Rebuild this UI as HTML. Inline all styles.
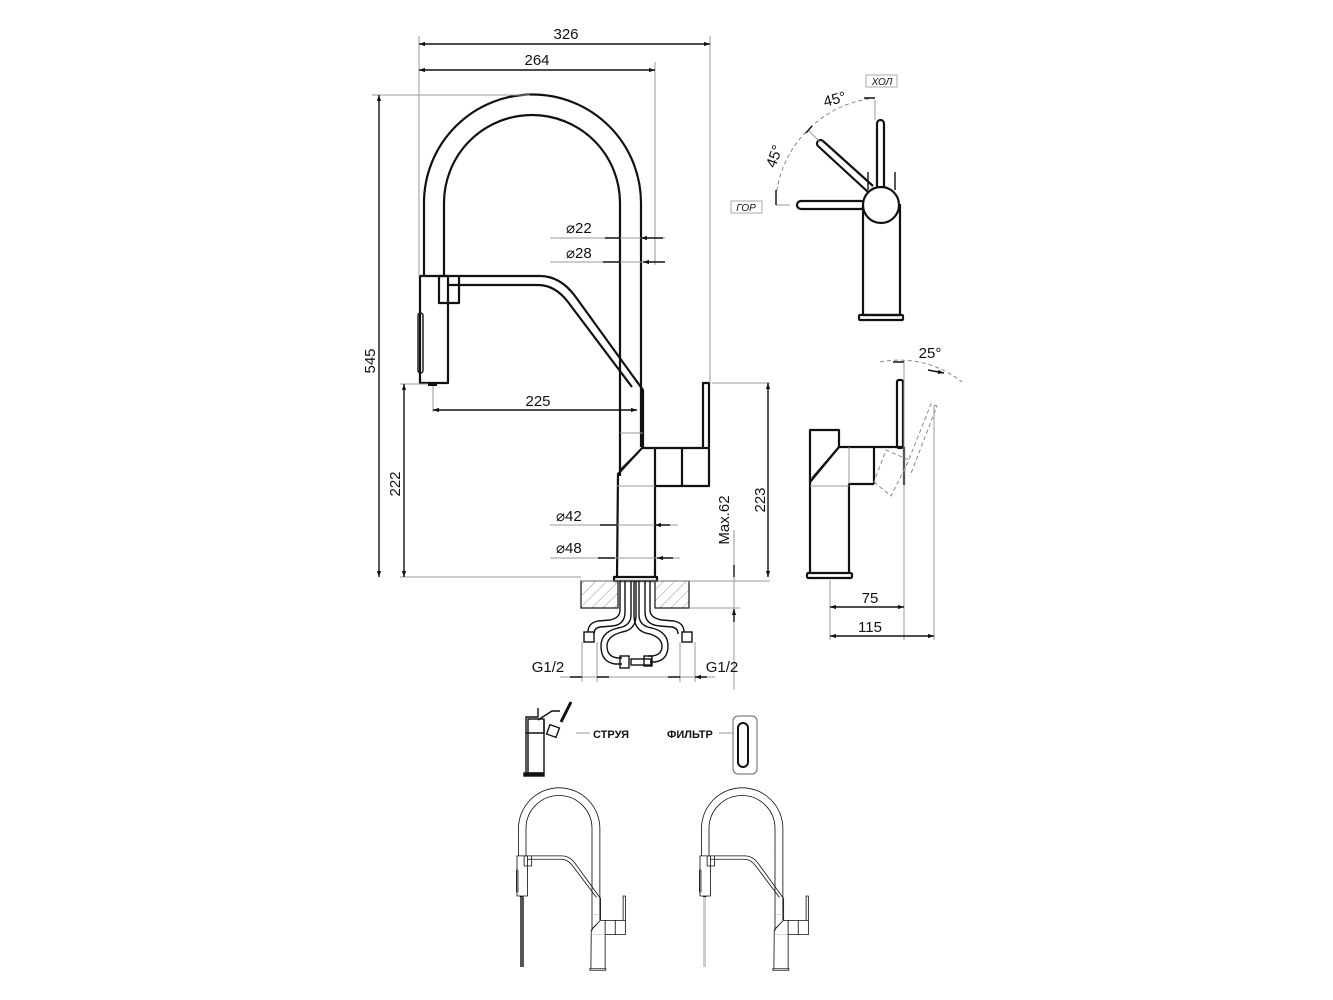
<!DOCTYPE html>
<html><head><meta charset="utf-8"><style>
html,body{margin:0;padding:0;background:#fff}
svg{display:block}
text{font-family:"Liberation Sans",sans-serif;fill:#111}
.o{fill:none;stroke:#111;stroke-width:2.2;stroke-linejoin:round}
.t{fill:none;stroke:#111;stroke-width:1.4}
.d{fill:none;stroke:#999;stroke-width:1}
.ds{fill:none;stroke:#888;stroke-width:1;stroke-dasharray:4 3}
</style></head><body>
<svg width="1333" height="1000" viewBox="0 0 1333 1000" xmlns="http://www.w3.org/2000/svg">
<defs>
<marker id="a" viewBox="0 0 10 10" refX="10" refY="5" markerWidth="9" markerHeight="6" orient="auto-start-reverse" markerUnits="userSpaceOnUse"><path d="M0,1.5 L10,5 L0,8.5z" fill="#111"/></marker>
<pattern id="h" width="8" height="8" patternUnits="userSpaceOnUse" patternTransform="rotate(45)"><line x1="0" y1="0" x2="0" y2="8" stroke="#999" stroke-width="1"/></pattern>
<g id="fau">
 <path class="o" d="M424,276 V203 A108.5,108.5 0 0 1 641,203 V447"/>
 <path class="o" d="M444,276 V203 A88,88 0 0 1 620,203 V476"/>
 <rect class="o" x="420" y="276" width="28" height="107"/>
 <rect class="o" x="439" y="276" width="20" height="27"/>
 <rect class="t" x="418" y="313" width="5" height="60" rx="2.5"/>
 <rect x="428" y="383" width="9" height="3" fill="#111"/>
 <path class="o" d="M459,276 H540 Q560,276 575,296 L643,390 V447"/>
 <path class="o" d="M448,285 H538 Q555,285 568,302 L632,387"/>
 <path class="d" d="M620,433 H643"/>
 <path class="o" d="M643,447 L618,474 L617,577"/>
 <path class="t" d="M643,447 L620,470"/>
 <path class="o" d="M643,448 H709 V383 H703 V448"/>
 <path class="o" d="M655,448 V577 M682,448 V486 H709 V448 M655,486 H682"/>
 <path class="d" d="M617,486 H655"/>
 <rect class="o" x="614" y="577" width="43" height="4"/>
</g>
</defs>

<!-- main faucet -->
<use href="#fau"/>

<!-- countertop -->
<rect x="581" y="581" width="37" height="27" fill="url(#h)" stroke="#111" stroke-width="1.2"/>
<rect x="655" y="581" width="34" height="27" fill="url(#h)" stroke="#111" stroke-width="1.2"/>
<path class="d" d="M581,581 H770 M689,608 H740"/>
<!-- hoses -->
<g class="t">
<path d="M620,581 V610 Q620,618 610,620 L598,621 Q588,623 588,632"/>
<path d="M625,581 V612 Q625,625 612,626 L600,627 Q594,628 594,634"/>
<path d="M650,581 V610 Q650,618 662,620 L674,621 Q684,623 684,632"/>
<path d="M645,581 V612 Q645,625 660,626 L672,627 Q678,628 678,634"/>
<path d="M631,581 V615 Q631,626 618,628 Q601,632 601,646 Q601,662 615,664 L622,664"/>
<path d="M636,581 V615 Q636,630 622,632 Q607,636 607,646 Q607,657 618,658 L622,658"/>
<path d="M639,581 V615 Q639,626 652,628 Q668,632 668,646 Q668,660 655,662 L650,662"/>
<path d="M634,581 V615 Q634,632 650,634 Q662,638 662,646 Q662,655 652,656 L648,656"/>
</g>
<rect class="t" x="584" y="632" width="10" height="10"/>
<rect class="t" x="682" y="632" width="10" height="10"/>
<rect class="t" x="620" y="656" width="9" height="12"/>
<rect class="t" x="631" y="659" width="20" height="6"/>
<rect class="t" x="644" y="656" width="8" height="10"/>

<!-- dimensions main -->
<path class="d" d="M419,36 V276 M710,36 V383 M655,62 V265"/>
<path class="t" d="M419,44 H710" marker-start="url(#a)" marker-end="url(#a)"/>
<text x="566" y="39" font-size="15" text-anchor="middle">326</text>
<path class="t" d="M419,70 H655" marker-start="url(#a)" marker-end="url(#a)"/>
<text x="537" y="65" font-size="15" text-anchor="middle">264</text>
<path class="d" d="M372,95 H530"/>
<path class="t" d="M379,95 V577" marker-start="url(#a)" marker-end="url(#a)"/>
<text transform="translate(375,361) rotate(-90)" font-size="15" text-anchor="middle">545</text>
<path class="d" d="M400,384 H428 M400,577 H581"/>
<path class="t" d="M404,384 V577" marker-start="url(#a)" marker-end="url(#a)"/>
<text transform="translate(400,484) rotate(-90)" font-size="15" text-anchor="middle">222</text>
<path class="d" d="M433,386 V412"/>
<path class="t" d="M433,410 H637" marker-start="url(#a)" marker-end="url(#a)"/>
<text x="538" y="406" font-size="15" text-anchor="middle">225</text>
<path class="d" d="M550,238 H665 M550,262 H665"/>
<path class="t" d="M605,238 H620 M663,238 H641" marker-end="url(#a)"/>
<path class="t" d="M603,262 H620 M665,262 H643" marker-end="url(#a)"/>
<text x="566" y="233" font-size="15">⌀22</text>
<text x="566" y="258" font-size="15">⌀28</text>
<path class="d" d="M550,525 H678 M550,558 H680"/>
<path class="t" d="M600,525 H617 M670,525 H655" marker-end="url(#a)"/>
<path class="t" d="M598,558 H615 M673,558 H657" marker-end="url(#a)"/>
<text x="556" y="521" font-size="15">⌀42</text>
<text x="556" y="553" font-size="15">⌀48</text>
<path class="d" d="M712,383 H770"/>
<path class="t" d="M768,383 V577" marker-start="url(#a)" marker-end="url(#a)"/>
<text transform="translate(765,500) rotate(-90)" font-size="15" text-anchor="middle">223</text>
<path class="d" d="M734,530 V690"/>
<path class="t" d="M734,565 V577 M734,622 V609" marker-end="url(#a)"/>
<text transform="translate(729,520) rotate(-90)" font-size="15" text-anchor="middle">Max.62</text>
<path class="d" d="M582,642 V682 M597,642 V682 M680,642 V682 M695,642 V682 M560,677 H715"/>
<path class="t" d="M570,677 H582 M609,677 H597 M668,677 H680 M707,677 H695" marker-end="url(#a)"/>
<text x="548" y="672" font-size="15" text-anchor="middle">G1/2</text>
<text x="722" y="672" font-size="15" text-anchor="middle">G1/2</text>

<!-- top view -->
<rect class="o" x="863" y="205" width="37" height="110"/>
<rect class="o" x="859" y="315" width="44" height="5" rx="1"/>
<path class="t" d="M868,172 V190 M895,172 V190"/>
<rect class="o" x="877" y="120" width="7" height="70" rx="3.5"/>
<path class="o" d="M818,146 L868,192 M823,141 L873,186" />
<path class="o" d="M818,146 A3.5,3.5 0 0 1 823,141"/>
<rect class="o" x="797" y="201" width="68" height="8" rx="4"/>
<circle cx="881" cy="205" r="18" fill="#fff" stroke="#111" stroke-width="2.2"/>
<path class="ds" d="M776,198 A108,108 0 0 1 810,128 M810,128 A108,108 0 0 1 875,98"/>
<path class="d" d="M776,205 H790 M875,100 V120 M808,130 L820,142"/>
<path class="t" d="M776,205 V190 M875,98 H864 M812,126 L806,133"/>
<text transform="translate(836,104) rotate(-15)" font-size="15" text-anchor="middle">45°</text>
<text transform="translate(779,158) rotate(-70)" font-size="15" text-anchor="middle">45°</text>
<rect x="866" y="75" width="31" height="12" fill="#fff" stroke="#aaa" stroke-width="1"/>
<text x="882" y="85" font-size="10" font-style="italic" text-anchor="middle">ХОЛ</text>
<rect x="731" y="201" width="31" height="12" fill="#fff" stroke="#aaa" stroke-width="1"/>
<text x="746" y="211" font-size="10" font-style="italic" text-anchor="middle">ГОР</text>

<!-- side view -->
<path class="o" d="M810,573 V482 L839,447 H904 M849,573 V484 H874"/>
<path class="o" d="M810,482 V430 H839 V447"/>
<path class="t" d="M812,478 L837,449"/>
<path class="d" d="M810,486 H849 M849,447 V484"/>
<rect class="o" x="897" y="380" width="6" height="68" rx="2"/>
<path class="o" d="M874,447 V484 M904,447 V485"/>
<rect class="o" x="807" y="573" width="45" height="5" rx="1.5"/>
<path class="ds" d="M874,482 L891,496 L909,460 L886,450 Z M904,472 L931,404 L937,406 L910,476"/>
<path class="ds" d="M880,362 A100,100 0 0 1 962,382"/>
<path class="d" d="M904,360 V640 M934,405 V640 M830,580 V640"/>
<path class="t" d="M904,362 H893 M928,370 L944,373" marker-end="url(#a)"/>
<text x="930" y="358" font-size="15" text-anchor="middle">25°</text>
<path class="t" d="M830,607 H904" marker-start="url(#a)" marker-end="url(#a)"/>
<text x="870" y="603" font-size="15" text-anchor="middle">75</text>
<path class="t" d="M830,636 H934" marker-start="url(#a)" marker-end="url(#a)"/>
<text x="870" y="632" font-size="15" text-anchor="middle">115</text>

<!-- legend icons -->
<g class="t">
<path d="M526,773 V717 H538 V708 M538,720 L552,711 H560"/>
<rect x="528" y="719" width="16" height="54"/>
<rect x="524" y="773" width="20" height="3" fill="#111"/>
<path d="M544,720 V733 H526"/>
<rect x="548" y="726" width="10" height="10" transform="rotate(20 553 731)"/>
</g>
<path d="M561,722 L571,702" stroke="#111" stroke-width="3"/>
<path class="d" d="M576,733 H590"/>
<text x="593" y="738" font-size="11" font-weight="bold">СТРУЯ</text>
<text x="667" y="738" font-size="11" font-weight="bold">ФИЛЬТР</text>
<path class="d" d="M719,733 H733"/>
<rect x="733" y="716" width="24" height="58" rx="5" fill="none" stroke="#666" stroke-width="1"/>
<rect x="738" y="723" width="10" height="44" rx="5" fill="none" stroke="#111" stroke-width="2"/>

<!-- small faucets -->
<use href="#fau" transform="translate(517,788) scale(0.375) translate(-420,-95)"/>
<use href="#fau" transform="translate(700,788) scale(0.375) translate(-420,-95)"/>
<rect x="520" y="897" width="4" height="70" fill="#555"/>
<rect x="703" y="897" width="3" height="70" fill="#ccc"/>
</svg>
</body></html>
